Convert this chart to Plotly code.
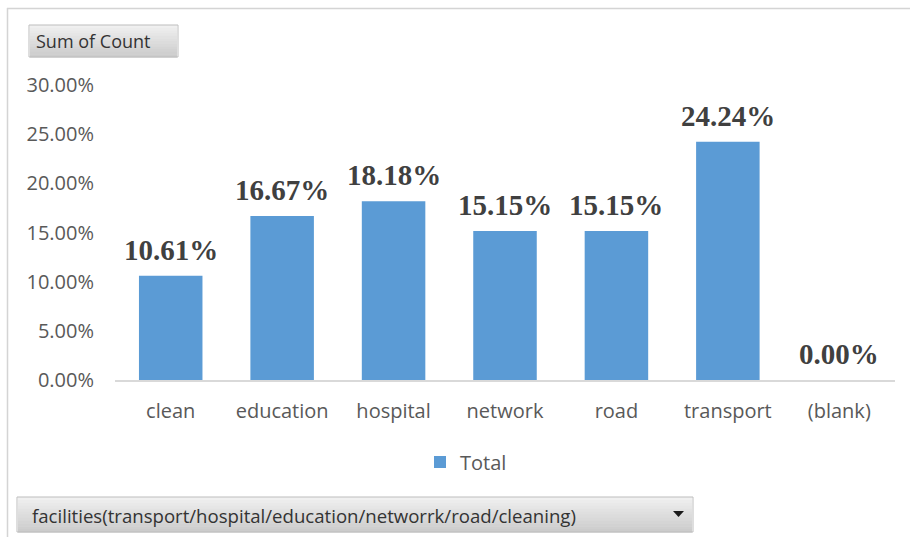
import plotly.graph_objects as go

categories = ["clean", "education", "hospital", "network", "road", "transport", "(blank)"]
values = [0.1061, 0.1667, 0.1818, 0.1515, 0.1515, 0.2424, 0.0]
tick_vals = [0, 0.05, 0.10, 0.15, 0.20, 0.25, 0.30]
tick_text = ["0.00%", "5.00%", "10.00%", "15.00%", "20.00%", "25.00%", "30.00%"]
series_name = "Total"

W, H = 910, 537
L, R, T, B = 115, 15, 85, 157
PW, PH = W - L - R, H - T - B

def px(x):
    return (x - L) / PW

def py(y):
    return (H - B - y) / PH

fig = go.Figure()
fig.add_trace(go.Bar(
    x=categories, y=values, name=series_name,
    marker=dict(color="#5B9BD5", line=dict(width=0)),
    showlegend=True,
))

annotations = []
for c, v in zip(categories, values):
    annotations.append(dict(x=c, y=v, xref="x", yref="y", text=f"{v*100:.2f}%", showarrow=False,
                            yanchor="bottom", yshift=8,
                            font=dict(family="Liberation Serif", size=29, color="#404040", weight="bold")))

shapes = []
# outer frame
shapes.append(dict(type="line", xref="paper", yref="paper", x0=px(7), x1=px(910), y0=py(8.5), y1=py(8.5),
                   line=dict(color="#d4d4d4", width=1.5)))
shapes.append(dict(type="line", xref="paper", yref="paper", x0=px(7.5), x1=px(7.5), y0=py(8), y1=py(537),
                   line=dict(color="#d4d4d4", width=1.5)))

def gradient_box(x0, y0, x1, y1, n=12):
    out = []
    top, bot = (240, 240, 240), (204, 204, 204)
    h = (y1 - y0) / n
    for i in range(n):
        t = i / (n - 1)
        c = tuple(int(top[k] + (bot[k] - top[k]) * t) for k in range(3))
        out.append(dict(type="rect", xref="paper", yref="paper", layer="below",
                        x0=px(x0 + 1), x1=px(x1 - 1), y0=py(y0 + i * h), y1=py(y0 + (i + 1) * h + 0.5),
                        fillcolor="rgb(%d,%d,%d)" % c, line=dict(width=0)))
    out.append(dict(type="rect", xref="paper", yref="paper", layer="below",
                    x0=px(x0), x1=px(x1), y0=py(y0), y1=py(y1),
                    fillcolor="rgba(0,0,0,0)", line=dict(color="#bdbdbd", width=1)))
    return out

shapes += gradient_box(29, 25, 178, 57)
shapes += gradient_box(17, 497, 693, 532)
# dropdown arrow
shapes.append(dict(type="path", xref="paper", yref="paper",
                   path="M %f,%f L %f,%f L %f,%f Z" % (px(673), py(511), px(684), py(511), px(678.5), py(517)),
                   fillcolor="#1a1a1a", line=dict(width=0)))

annotations += [
    dict(text="Sum of Count", xref="paper", yref="paper", x=px(34), y=py(41), xanchor="left", yanchor="middle",
         showarrow=False, font=dict(family="Open Sans", size=18, color="#333333")),
    dict(text="facilities(transport/hospital/education/networrk/road/cleaning)", xref="paper", yref="paper",
         x=px(30), y=py(515), xanchor="left", yanchor="middle",
         showarrow=False, font=dict(family="Open Sans", size=18.6, color="#333333")),
]

fig.update_layout(
    width=W, height=H,
    margin=dict(l=L, r=R, t=T, b=B),
    paper_bgcolor="white", plot_bgcolor="white",
    bargap=0.43,
    shapes=shapes, annotations=annotations,
    xaxis=dict(showgrid=False, showline=True, linecolor="#d9d9d9", linewidth=1.5,
               ticks="", ticklabelstandoff=12,
               tickfont=dict(family="Open Sans", size=20, color="#595959"), fixedrange=True),
    yaxis=dict(range=[0, 0.30], tickvals=tick_vals, ticktext=tick_text, showgrid=False,
               zeroline=False, showline=False, ticks="", ticklabelstandoff=20,
               tickfont=dict(family="Open Sans", size=20, color="#595959"), fixedrange=True),
    legend=dict(orientation="h", x=px(466), xanchor="center", y=py(462), yanchor="middle",
                font=dict(family="Open Sans", size=20, color="#595959"), itemwidth=30),
    showlegend=True,
)

fig.write_html("out.html", config={"displayModeBar": False},
               post_script="document.body.style.margin='0';")
